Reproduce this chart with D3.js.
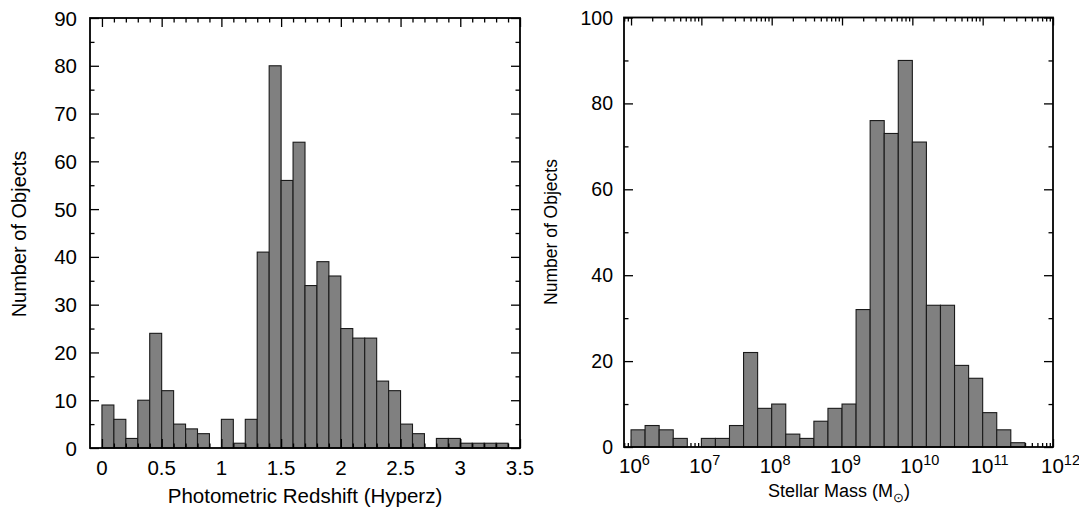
<!DOCTYPE html>
<html>
<head>
<meta charset="utf-8">
<script src="https://cdn.jsdelivr.net/npm/d3@7"></script>
<style>
  body { margin: 0; background: #fff; }
  text { font-family: "Liberation Sans", Arial, sans-serif; fill: #000; }
</style>
</head>
<body>
<svg id="chart" width="1079" height="513"></svg>
<script>
// left panel: photometric redshift histogram (bin start, count)
const zStart = [0.0, 0.1, 0.2, 0.3, 0.4, 0.5, 0.6, 0.7, 0.8, 0.9, 1.0, 1.1, 1.2, 1.3, 1.4, 1.5, 1.6,
                1.7, 1.8, 1.9, 2.0, 2.1, 2.2, 2.3, 2.4, 2.5, 2.6, 2.7, 2.8, 2.9, 3.0, 3.1, 3.2, 3.3];
const zCount = [9, 6, 2, 10, 24, 12, 5, 4, 3, 0, 6, 1, 6, 41, 80, 56, 64,
                34, 39, 36, 25, 23, 23, 14, 12, 5, 3, 0, 2, 2, 1, 1, 1, 1];
const zBinWidth = 0.1;
const zTicks = [0, 0.5, 1, 1.5, 2, 2.5, 3, 3.5];
const zTickLabels = ["0", "0.5", "1", "1.5", "2", "2.5", "3", "3.5"];
const nTicksLeft = [0, 10, 20, 30, 40, 50, 60, 70, 80, 90];

// right panel: stellar mass histogram, bins in log10(M/Msun)
const mStart = [6.0, 6.2, 6.4, 6.6, 6.8, 7.0, 7.2, 7.4, 7.6, 7.8, 8.0, 8.2, 8.4, 8.6, 8.8, 9.0, 9.2,
                9.4, 9.6, 9.8, 10.0, 10.2, 10.4, 10.6, 10.8, 11.0, 11.2, 11.4];
const mCount = [4, 5, 4, 2, 0, 2, 2, 5, 22, 9, 10, 3, 2, 6, 9, 10, 32,
                76, 73, 90, 71, 33, 33, 19, 16, 8, 4, 1];
const mBinWidth = 0.2;
const mDecades = [6, 7, 8, 9, 10, 11, 12];
const nTicksRight = [0, 20, 40, 60, 80, 100];

const svg = d3.select("#chart");
const barFill = "#808080", barStroke = "#1a1a1a";

// ---------- left panel ----------
const xL = d3.scaleLinear().domain([-0.1, 3.5]).range([90, 520]);
const yL = d3.scaleLinear().domain([0, 90]).range([448, 18]);
const gL = svg.append("g");

gL.selectAll("rect.bar")
  .data(zStart.map((s, i) => ({ s: s, n: zCount[i] })).filter(d => d.n > 0))
  .join("rect")
    .attr("class", "bar")
    .attr("x", d => xL(d.s))
    .attr("y", d => yL(d.n))
    .attr("width", d => xL(d.s + zBinWidth) - xL(d.s))
    .attr("height", d => yL(0) - yL(d.n))
    .attr("fill", barFill)
    .attr("stroke", barStroke)
    .attr("stroke-width", 1.1);

function inwardAxis(g, scale, orient, pos, major, minor, majLen, minLen) {
  const mk = (vals, len) => {
    const ax = (orient === "bottom" ? d3.axisBottom : orient === "top" ? d3.axisTop :
                orient === "left" ? d3.axisLeft : d3.axisRight)(scale)
      .tickValues(vals).tickSize(-len).tickFormat("");
    const t = (orient === "bottom" || orient === "top") ? `translate(0,${pos})` : `translate(${pos},0)`;
    const a = g.append("g").attr("transform", t).call(ax);
    a.select(".domain").remove();
    a.selectAll("line").attr("stroke", "#000").attr("stroke-width", 1.3);
  };
  mk(major, majLen);
  mk(minor, minLen);
}

const zMinor = d3.range(0, 36).map(i => i / 10).filter(v => Math.abs(v * 2 - Math.round(v * 2)) > 1e-6);
const nMinorL = [5, 15, 25, 35, 45, 55, 65, 75, 85];
inwardAxis(gL, xL, "bottom", 448, zTicks, zMinor, 9, 4.5);
inwardAxis(gL, xL, "top", 18, zTicks, zMinor, 9, 4.5);
inwardAxis(gL, yL, "left", 90, nTicksLeft, nMinorL, 9, 4.5);
inwardAxis(gL, yL, "right", 520, nTicksLeft, nMinorL, 9, 4.5);

gL.append("rect").attr("x", 90).attr("y", 18).attr("width", 430).attr("height", 430)
  .attr("fill", "none").attr("stroke", "#000").attr("stroke-width", 1.8);

gL.selectAll("text.xt").data(zTicks).join("text")
  .attr("class", "xt").attr("x", d => xL(d)).attr("y", 475)
  .attr("text-anchor", "middle").attr("font-size", 20.5)
  .text((d, i) => zTickLabels[i]);
gL.selectAll("text.yt").data(nTicksLeft).join("text")
  .attr("class", "yt").attr("x", 77).attr("y", d => yL(d))
  .attr("text-anchor", "end").attr("dominant-baseline", "central").attr("font-size", 20.5)
  .text(d => d);
gL.append("text").attr("x", 305).attr("y", 503).attr("text-anchor", "middle")
  .attr("font-size", 20.5).text("Photometric Redshift (Hyperz)");
gL.append("text").attr("transform", "translate(26,234) rotate(-90)")
  .attr("text-anchor", "middle").attr("font-size", 20).text("Number of Objects");

// ---------- right panel ----------
const xR = d3.scaleLog().domain([Math.pow(10, 5.9), 1e12]).range([624, 1053]);
const yR = d3.scaleLinear().domain([0, 100]).range([447, 17.5]);
const gR = svg.append("g");

const logMinor = [];
[5, 6, 7, 8, 9, 10, 11].forEach(e => { for (let k = 2; k <= 9; k++) logMinor.push(k * Math.pow(10, e)); });
const logMinorIn = logMinor.filter(v => v >= xR.domain()[0] && v <= 1e12);
const logMajor = mDecades.map(e => Math.pow(10, e));
const nMinorR = [10, 30, 50, 70, 90];

// bottom ticks first so bars cover them
inwardAxis(gR, xR, "bottom", 447, logMajor, logMinorIn, 8, 4);

gR.selectAll("rect.bar")
  .data(mStart.map((s, i) => ({ s: s, n: mCount[i] })).filter(d => d.n > 0))
  .join("rect")
    .attr("class", "bar")
    .attr("x", d => xR(Math.pow(10, d.s)))
    .attr("y", d => yR(d.n))
    .attr("width", d => xR(Math.pow(10, d.s + mBinWidth)) - xR(Math.pow(10, d.s)))
    .attr("height", d => yR(0) - yR(d.n))
    .attr("fill", barFill)
    .attr("stroke", barStroke)
    .attr("stroke-width", 1.1);

inwardAxis(gR, xR, "top", 17.5, logMajor, logMinorIn, 8, 4);
inwardAxis(gR, yR, "left", 624, nTicksRight, nMinorR, 9, 4.5);
inwardAxis(gR, yR, "right", 1053, nTicksRight, nMinorR, 9, 4.5);

gR.append("rect").attr("x", 624).attr("y", 17.5).attr("width", 429).attr("height", 429.5)
  .attr("fill", "none").attr("stroke", "#000").attr("stroke-width", 1.8);

const xtR = gR.selectAll("text.xt").data(mDecades).join("text")
  .attr("class", "xt").attr("x", d => xR(Math.pow(10, d)) - 12).attr("y", 473)
  .attr("text-anchor", "start").attr("font-size", 20.5);
xtR.append("tspan").text("10");
xtR.append("tspan").attr("dy", -8).attr("font-size", 14.5).text(d => d);

gR.selectAll("text.yt").data(nTicksRight).join("text")
  .attr("class", "yt").attr("x", 613).attr("y", d => yR(d))
  .attr("text-anchor", "end").attr("dominant-baseline", "central").attr("font-size", 19.5)
  .text(d => d);

const xl = gR.append("text").attr("x", 839).attr("y", 497).attr("text-anchor", "middle").attr("font-size", 18);
xl.append("tspan").text("Stellar Mass (M");
xl.append("tspan").attr("dy", 5).attr("font-size", 13).text("\u2299");
xl.append("tspan").attr("dy", -5).text(")");
gR.append("text").attr("transform", "translate(557,232) rotate(-90)")
  .attr("text-anchor", "middle").attr("font-size", 17.5).text("Number of Objects");
</script>
</body>
</html>
